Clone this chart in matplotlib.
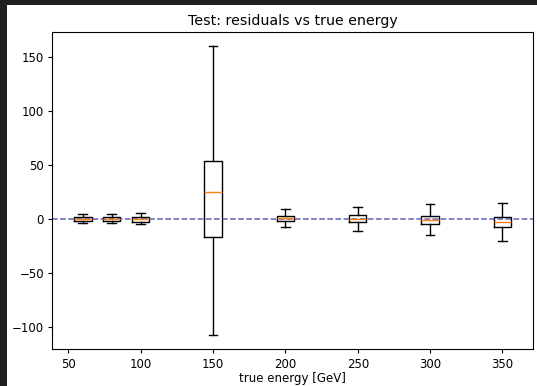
import matplotlib
matplotlib.use("Agg")
import matplotlib.pyplot as plt
from matplotlib.patches import Rectangle

# box statistics
energies = [60, 80, 100, 150, 200, 250, 300, 350]
med = [0.2, 0.3, 0.0, 24.8, 0.6, 0.3, -1.2, -2.8]
q1 = [-1.6, -1.5, -2.8, -16.4, -1.6, -2.8, -4.9, -7.1]
q3 = [2.1, 2.2, 2.0, 54.0, 3.1, 3.4, 2.5, 1.6]
whislo = [-3.4, -3.6, -4.6, -107.6, -7.1, -10.8, -15.1, -20.1]
whishi = [4.3, 4.5, 5.3, 160.0, 9.3, 11.4, 13.6, 14.8]

stats = []
for i in range(len(energies)):
    stats.append(dict(med=med[i], q1=q1[i], q3=q3[i],
                      whislo=whislo[i], whishi=whishi[i], fliers=[]))

plt.rcParams['font.size'] = 8.5
plt.rcParams['xtick.major.size'] = 3
plt.rcParams['ytick.major.size'] = 3
plt.rcParams['xtick.major.pad'] = 3
plt.rcParams['ytick.major.pad'] = 3

fig = plt.figure(figsize=(5.37, 3.86), dpi=100)
fig.patch.set_facecolor('#1f1f1f')
# white canvas of the screenshot, dark strip on left and top
fig.patches.append(Rectangle((7 / 537, 0), 1, 1 - 5 / 386, transform=fig.transFigure,
                             facecolor='white', edgecolor='none', zorder=-1))

ax = fig.add_axes([52.3 / 537, 1 - 349.3 / 386, (533 - 52.3) / 537, (349.3 - 32) / 386])
ax.bxp(stats, positions=energies, widths=12, showfliers=False, manage_ticks=False)
ax.axhline(0, color='#3a3aa0', linestyle='--', linewidth=1.1, alpha=0.8)
ax.set_xticks([50, 100, 150, 200, 250, 300, 350])
ax.set_xlabel('true energy [GeV]', labelpad=1)
ax.set_title('Test: residuals vs true energy', pad=5)

plt.savefig('out.png', dpi=100, facecolor=fig.get_facecolor())
